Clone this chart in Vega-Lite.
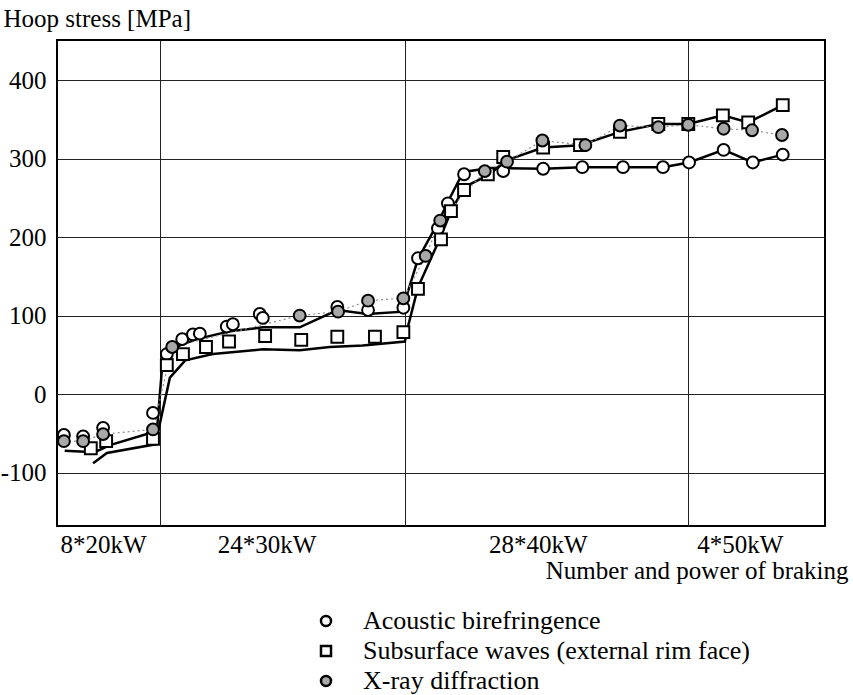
{
  "$schema": "https://vega.github.io/schema/vega-lite/v6.json",
  "width": 768,
  "height": 486,
  "autosize": {"type": "none"},
  "padding": {"left": 57, "top": 40, "right": 28, "bottom": 169},
  "background": "white",
  "config": {
    "font": "Liberation Serif",
    "view": {"stroke": "black", "strokeWidth": 2},
    "legend": {
      "title": null,
      "orient": "none",
      "legendX": 256,
      "legendY": 568,
      "direction": "vertical",
      "labelFont": "Liberation Serif",
      "labelFontSize": 26,
      "labelColor": "black",
      "labelLimit": 0,
      "labelOffset": 24,
      "rowPadding": 4,
      "symbolSize": 100,
      "symbolStrokeWidth": 2.5,
      "symbolStrokeColor": "black",
      "symbolOpacity": 1
    }
  },
  "datasets": {
    "points": [
      {"series": "Acoustic birefringence", "x": 0.9, "y": -52},
      {"series": "Acoustic birefringence", "x": 3.4, "y": -54},
      {"series": "Acoustic birefringence", "x": 6.0, "y": -43},
      {"series": "Acoustic birefringence", "x": 12.5, "y": -24},
      {"series": "Acoustic birefringence", "x": 14.3, "y": 51},
      {"series": "Acoustic birefringence", "x": 16.3, "y": 70},
      {"series": "Acoustic birefringence", "x": 17.7, "y": 76},
      {"series": "Acoustic birefringence", "x": 18.6, "y": 77},
      {"series": "Acoustic birefringence", "x": 22.1, "y": 86},
      {"series": "Acoustic birefringence", "x": 22.9, "y": 89},
      {"series": "Acoustic birefringence", "x": 26.4, "y": 102},
      {"series": "Acoustic birefringence", "x": 26.8, "y": 97},
      {"series": "Acoustic birefringence", "x": 36.5, "y": 111},
      {"series": "Acoustic birefringence", "x": 40.5, "y": 107},
      {"series": "Acoustic birefringence", "x": 45.1, "y": 110},
      {"series": "Acoustic birefringence", "x": 47.0, "y": 173},
      {"series": "Acoustic birefringence", "x": 49.6, "y": 211},
      {"series": "Acoustic birefringence", "x": 50.9, "y": 243},
      {"series": "Acoustic birefringence", "x": 53.0, "y": 280},
      {"series": "Acoustic birefringence", "x": 58.1, "y": 284},
      {"series": "Acoustic birefringence", "x": 63.3, "y": 287},
      {"series": "Acoustic birefringence", "x": 68.4, "y": 289},
      {"series": "Acoustic birefringence", "x": 73.7, "y": 289},
      {"series": "Acoustic birefringence", "x": 78.9, "y": 289},
      {"series": "Acoustic birefringence", "x": 82.3, "y": 295},
      {"series": "Acoustic birefringence", "x": 86.8, "y": 311},
      {"series": "Acoustic birefringence", "x": 90.6, "y": 295},
      {"series": "Acoustic birefringence", "x": 94.5, "y": 305},
      {"series": "Subsurface waves (external rim face)", "x": 4.4, "y": -69},
      {"series": "Subsurface waves (external rim face)", "x": 6.4, "y": -60},
      {"series": "Subsurface waves (external rim face)", "x": 12.5, "y": -57},
      {"series": "Subsurface waves (external rim face)", "x": 14.3, "y": 37},
      {"series": "Subsurface waves (external rim face)", "x": 16.4, "y": 51},
      {"series": "Subsurface waves (external rim face)", "x": 19.4, "y": 60},
      {"series": "Subsurface waves (external rim face)", "x": 22.4, "y": 67},
      {"series": "Subsurface waves (external rim face)", "x": 27.1, "y": 74},
      {"series": "Subsurface waves (external rim face)", "x": 31.8, "y": 69},
      {"series": "Subsurface waves (external rim face)", "x": 36.5, "y": 73},
      {"series": "Subsurface waves (external rim face)", "x": 41.4, "y": 73},
      {"series": "Subsurface waves (external rim face)", "x": 45.1, "y": 79},
      {"series": "Subsurface waves (external rim face)", "x": 47.0, "y": 134},
      {"series": "Subsurface waves (external rim face)", "x": 50.0, "y": 197},
      {"series": "Subsurface waves (external rim face)", "x": 51.3, "y": 233},
      {"series": "Subsurface waves (external rim face)", "x": 53.0, "y": 260},
      {"series": "Subsurface waves (external rim face)", "x": 56.1, "y": 280},
      {"series": "Subsurface waves (external rim face)", "x": 58.1, "y": 302},
      {"series": "Subsurface waves (external rim face)", "x": 63.3, "y": 314},
      {"series": "Subsurface waves (external rim face)", "x": 68.1, "y": 317},
      {"series": "Subsurface waves (external rim face)", "x": 73.3, "y": 334},
      {"series": "Subsurface waves (external rim face)", "x": 78.3, "y": 344},
      {"series": "Subsurface waves (external rim face)", "x": 82.2, "y": 344},
      {"series": "Subsurface waves (external rim face)", "x": 86.7, "y": 355},
      {"series": "Subsurface waves (external rim face)", "x": 90.0, "y": 346},
      {"series": "Subsurface waves (external rim face)", "x": 94.5, "y": 368},
      {"series": "X-ray diffraction", "x": 0.9, "y": -60},
      {"series": "X-ray diffraction", "x": 3.4, "y": -60},
      {"series": "X-ray diffraction", "x": 6.0, "y": -51},
      {"series": "X-ray diffraction", "x": 12.5, "y": -45},
      {"series": "X-ray diffraction", "x": 15.0, "y": 60},
      {"series": "X-ray diffraction", "x": 31.6, "y": 100},
      {"series": "X-ray diffraction", "x": 36.6, "y": 105},
      {"series": "X-ray diffraction", "x": 40.5, "y": 119},
      {"series": "X-ray diffraction", "x": 45.1, "y": 122},
      {"series": "X-ray diffraction", "x": 48.0, "y": 176},
      {"series": "X-ray diffraction", "x": 49.9, "y": 221},
      {"series": "X-ray diffraction", "x": 55.7, "y": 284},
      {"series": "X-ray diffraction", "x": 58.6, "y": 296},
      {"series": "X-ray diffraction", "x": 63.2, "y": 323},
      {"series": "X-ray diffraction", "x": 68.8, "y": 317},
      {"series": "X-ray diffraction", "x": 73.3, "y": 342},
      {"series": "X-ray diffraction", "x": 78.3, "y": 340},
      {"series": "X-ray diffraction", "x": 82.2, "y": 343},
      {"series": "X-ray diffraction", "x": 86.8, "y": 338},
      {"series": "X-ray diffraction", "x": 90.5, "y": 336},
      {"series": "X-ray diffraction", "x": 94.4, "y": 330}
    ],
    "curves": [
      {"curve": "acoustic", "x": 1.0, "y": -72},
      {"curve": "acoustic", "x": 4.9, "y": -74},
      {"curve": "acoustic", "x": 6.9, "y": -65},
      {"curve": "acoustic", "x": 13.0, "y": -47},
      {"curve": "acoustic", "x": 13.8, "y": 48},
      {"curve": "acoustic", "x": 16.0, "y": 62},
      {"curve": "acoustic", "x": 18.2, "y": 70},
      {"curve": "acoustic", "x": 22.5, "y": 80},
      {"curve": "acoustic", "x": 26.8, "y": 85},
      {"curve": "acoustic", "x": 31.6, "y": 85},
      {"curve": "acoustic", "x": 36.5, "y": 107},
      {"curve": "acoustic", "x": 40.4, "y": 102},
      {"curve": "acoustic", "x": 45.1, "y": 105},
      {"curve": "acoustic", "x": 45.3, "y": 118},
      {"curve": "acoustic", "x": 47.0, "y": 172},
      {"curve": "acoustic", "x": 49.6, "y": 218},
      {"curve": "acoustic", "x": 50.9, "y": 245},
      {"curve": "acoustic", "x": 52.9, "y": 283},
      {"curve": "acoustic", "x": 56.4, "y": 288},
      {"curve": "acoustic", "x": 63.3, "y": 287},
      {"curve": "acoustic", "x": 68.4, "y": 289},
      {"curve": "acoustic", "x": 73.7, "y": 289},
      {"curve": "acoustic", "x": 78.9, "y": 289},
      {"curve": "acoustic", "x": 82.3, "y": 295},
      {"curve": "acoustic", "x": 86.8, "y": 311},
      {"curve": "acoustic", "x": 90.6, "y": 295},
      {"curve": "acoustic", "x": 94.5, "y": 305},
      {"curve": "subsurface", "x": 4.7, "y": -88},
      {"curve": "subsurface", "x": 6.5, "y": -75},
      {"curve": "subsurface", "x": 12.8, "y": -64},
      {"curve": "subsurface", "x": 14.7, "y": 21},
      {"curve": "subsurface", "x": 16.7, "y": 43},
      {"curve": "subsurface", "x": 20.3, "y": 51},
      {"curve": "subsurface", "x": 26.8, "y": 57},
      {"curve": "subsurface", "x": 31.6, "y": 56},
      {"curve": "subsurface", "x": 35.5, "y": 60},
      {"curve": "subsurface", "x": 39.8, "y": 62},
      {"curve": "subsurface", "x": 45.3, "y": 67},
      {"curve": "subsurface", "x": 45.7, "y": 86},
      {"curve": "subsurface", "x": 47.0, "y": 136},
      {"curve": "subsurface", "x": 49.9, "y": 199},
      {"curve": "subsurface", "x": 51.4, "y": 235},
      {"curve": "subsurface", "x": 53.1, "y": 264},
      {"curve": "subsurface", "x": 56.4, "y": 280},
      {"curve": "subsurface", "x": 58.3, "y": 297},
      {"curve": "subsurface", "x": 63.3, "y": 314},
      {"curve": "subsurface", "x": 68.1, "y": 317},
      {"curve": "subsurface", "x": 73.3, "y": 334},
      {"curve": "subsurface", "x": 78.3, "y": 344},
      {"curve": "subsurface", "x": 82.2, "y": 344},
      {"curve": "subsurface", "x": 86.7, "y": 355},
      {"curve": "subsurface", "x": 90.0, "y": 346},
      {"curve": "subsurface", "x": 94.5, "y": 368}
    ]
  },
  "encoding": {
    "x": {
      "field": "x",
      "type": "quantitative",
      "scale": {"domain": [0, 100], "nice": false, "zero": false},
      "axis": {
        "values": [6.0, 13.4, 27.3, 45.3, 62.6, 82.2, 88.9],
        "labelExpr": "datum.value == 6 ? '8*20kW' : datum.value == 27.3 ? '24*30kW' : datum.value == 62.6 ? '28*40kW' : datum.value == 88.9 ? '4*50kW' : ''",
        "domain": false,
        "ticks": false,
        "tickSize": 0,
        "grid": true,
        "gridColor": "#222222",
        "gridWidth": 1,
        "gridOpacity": {"condition": {"test": "datum.value == 13.4 || datum.value == 45.3 || datum.value == 82.2", "value": 1}, "value": 0},
        "labelFont": "Liberation Serif",
        "labelFontSize": 25,
        "labelColor": "black",
        "labelBaseline": "alphabetic",
        "labelPadding": 26,
        "labelFlush": false,
        "labelOverlap": false,
        "title": "Number and power of braking",
        "titleFont": "Liberation Serif",
        "titleFontSize": 25,
        "titleFontWeight": "normal",
        "titleColor": "black",
        "titleAlign": "right",
        "titleAnchor": "end",
        "titleBaseline": "alphabetic",
        "titleX": 791,
        "titleY": 52
      }
    },
    "y": {
      "field": "y",
      "type": "quantitative",
      "scale": {"domain": [-168, 451], "nice": false, "zero": false},
      "axis": {
        "values": [-100, 0, 100, 200, 300, 400],
        "labelExpr": "replace(datum.label, '−', '-')",
        "domain": false,
        "ticks": false,
        "tickSize": 0,
        "grid": true,
        "gridColor": "#222222",
        "gridWidth": 1,
        "labelFont": "Liberation Serif",
        "labelFontSize": 25,
        "labelColor": "black",
        "labelPadding": 11,
        "title": "Hoop stress [MPa]",
        "titleFont": "Liberation Serif",
        "titleFontSize": 25,
        "titleFontWeight": "normal",
        "titleColor": "black",
        "titleAngle": 0,
        "titleAlign": "left",
        "titleBaseline": "alphabetic",
        "titleX": -54,
        "titleY": -14
      }
    }
  },
  "layer": [
    {
      "data": {"name": "curves"},
      "mark": {"type": "line", "color": "black", "strokeWidth": 2.5},
      "encoding": {"detail": {"field": "curve", "type": "nominal"}}
    },
    {
      "data": {"name": "points"},
      "transform": [{"filter": "datum.series === 'X-ray diffraction'"}],
      "mark": {"type": "line", "color": "#8c8c8c", "strokeWidth": 1.2, "strokeDash": [2, 3]},
      "encoding": {}
    },
    {
      "data": {"name": "points"},
      "mark": {"type": "point", "filled": true, "opacity": 1, "strokeWidth": 2, "size": 140},
      "encoding": {
        "shape": {
          "field": "series",
          "type": "nominal",
          "scale": {
            "domain": ["Acoustic birefringence", "Subsurface waves (external rim face)", "X-ray diffraction"],
            "range": ["circle", "square", "circle"]
          }
        },
        "fill": {
          "field": "series",
          "type": "nominal",
          "scale": {
            "domain": ["Acoustic birefringence", "Subsurface waves (external rim face)", "X-ray diffraction"],
            "range": ["white", "white", "#a8a8a8"]
          }
        },
        "stroke": {
          "field": "series",
          "type": "nominal",
          "scale": {
            "domain": ["Acoustic birefringence", "Subsurface waves (external rim face)", "X-ray diffraction"],
            "range": ["black", "black", "black"]
          }
        }
      }
    }
  ]
}
